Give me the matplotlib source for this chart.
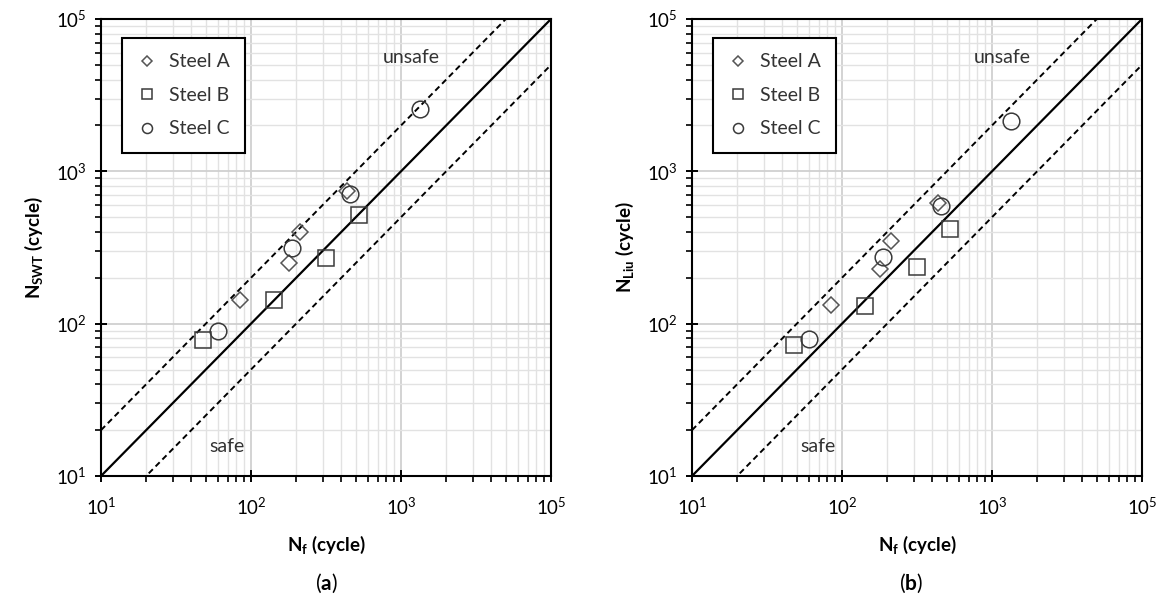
import numpy as np
import matplotlib
matplotlib.use("Agg")
import matplotlib.pyplot as plt
from matplotlib.ticker import FixedLocator, FixedFormatter, LogLocator, NullFormatter

plt.rcParams['font.family'] = ['Lato', 'DejaVu Sans']
plt.rcParams['mathtext.fontset'] = 'custom'
plt.rcParams['mathtext.rm'] = 'Lato'
plt.rcParams['mathtext.bf'] = 'Lato:bold'

# experimental life vs predicted life (cycles)
steel_a_nf = [84, 178, 211, 437]
steel_a_swt = [144, 249, 402, 747]
steel_a_liu = [133, 228, 351, 622]

steel_b_nf = [48, 142, 315, 524]
steel_b_swt = [78, 142, 268, 513]
steel_b_liu = [72, 131, 234, 421]

steel_c_nf = [60, 189, 455, 1340]
steel_c_swt = [90, 316, 710, 2550]
steel_c_liu = [79, 275, 596, 2150]

tick_vals = [10, 100, 1000, 10000]
tick_labels = [r'$\mathrm{10^{1}}$', r'$\mathrm{10^{2}}$', r'$\mathrm{10^{3}}$', r'$\mathrm{10^{5}}$']

fig = plt.figure(figsize=(11.64, 6.01), dpi=100)
ax_a = fig.add_axes([101 / 1164, 1 - 476 / 601, 450 / 1164, 457 / 601])
ax_b = fig.add_axes([692 / 1164, 1 - 476 / 601, 450 / 1164, 457 / 601])

edge = '#3a3a3a'


def draw(ax, pred_a, pred_b, pred_c, ylabel):
    ax.set_xscale('log')
    ax.set_yscale('log')
    ax.set_xlim(10, 1e4)
    ax.set_ylim(10, 1e4)

    ref = np.array([10, 1e4])
    ax.plot(ref, ref, color='black', lw=1.6, zorder=2)
    ax.plot(ref, ref * 2, color='black', lw=1.4, ls=(0, (3, 2)), zorder=2)
    ax.plot(ref, ref / 2, color='black', lw=1.4, ls=(0, (3, 2)), zorder=2)

    ax.plot(steel_a_nf, pred_a, ls='none', marker='D', ms=8.5, mfc='none',
            mec='#555555', mew=1.1, label='Steel A', zorder=3)
    ax.plot(steel_b_nf, pred_b, ls='none', marker='s', ms=11, mfc='none',
            mec=edge, mew=1.1, label='Steel B', zorder=3)
    ax.plot(steel_c_nf, pred_c, ls='none', marker='o', ms=12, mfc='none',
            mec=edge, mew=1.1, label='Steel C', zorder=3)

    for axis in (ax.xaxis, ax.yaxis):
        axis.set_major_locator(FixedLocator(tick_vals))
        axis.set_major_formatter(FixedFormatter(tick_labels))
        axis.set_minor_locator(LogLocator(base=10, subs=np.arange(2, 10)))
        axis.set_minor_formatter(NullFormatter())

    ax.grid(which='major', color='#d0d0d0', lw=1.3, zorder=0)
    ax.grid(which='minor', color='#e2e2e2', lw=1.0, zorder=0)
    ax.set_axisbelow(True)
    ax.tick_params(which='major', direction='inout', length=9, width=1.4,
                   labelsize=13.5, colors='black', pad=10)
    ax.tick_params(which='minor', direction='out', length=4.5, width=1.2)
    ax.tick_params(axis='y', pad=6)
    for s in ax.spines.values():
        s.set_linewidth(1.5)

    ax.text(0.69, 0.915, 'unsafe', transform=ax.transAxes, ha='center',
            va='center', fontsize=14, color='#333333')
    ax.text(0.28, 0.065, 'safe', transform=ax.transAxes, ha='center',
            va='center', fontsize=14, color='#333333')

    leg = ax.legend(loc='upper left', bbox_to_anchor=(0.025, 0.98), fontsize=14,
                    markerscale=0.6, handlelength=1.0, handletextpad=0.6,
                    labelspacing=0.85, borderpad=0.8, fancybox=False,
                    framealpha=1, edgecolor='black')
    leg.get_frame().set_linewidth(1.5)
    for t in leg.get_texts():
        t.set_color('#333333')

    ax.set_xlabel(r'$\mathbf{N_{f}}$ (cycle)', fontsize=13.5, fontweight='bold',
                  labelpad=12)
    ax.set_ylabel(ylabel, fontsize=13.5, fontweight='bold', labelpad=8)


draw(ax_a, steel_a_swt, steel_b_swt, steel_c_swt, r'$\mathbf{N_{SWT}}$ (cycle)')
draw(ax_b, steel_a_liu, steel_b_liu, steel_c_liu, r'$\mathbf{N_{Liu}}$ (cycle)')

fig.text(326 / 1164, 1 - 583 / 601, r'($\mathbf{a}$)', ha='center', va='center', fontsize=15)
fig.text(911 / 1164, 1 - 583 / 601, r'($\mathbf{b}$)', ha='center', va='center', fontsize=15)

fig.savefig('out.png', dpi=100)
